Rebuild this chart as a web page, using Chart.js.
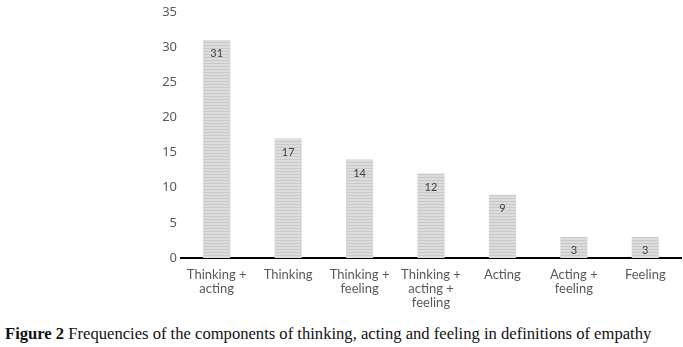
<!DOCTYPE html>
<html>
<head>
<meta charset="utf-8">
<script src="https://cdn.jsdelivr.net/npm/chart.js@4/dist/chart.umd.min.js"></script>
<style>
    body { margin: 0; background: #fff; }
    #wrap { width: 683px; height: 310px; }
    #caption {
        font-family: "Liberation Serif", "DejaVu Serif", serif;
        font-size: 16.6px;
        color: #111;
        margin: 14px 0 0 5px;
        white-space: nowrap;
    }
</style>
</head>
<body>
<div id="wrap"><canvas id="barGraph" width="683" height="310"></canvas></div>
<div id="caption"><b>Figure 2</b> Frequencies of the components of thinking, acting and feeling in definitions of empathy</div>
<script>

var categories = [
    ['Thinking +', 'acting'],
    'Thinking',
    ['Thinking +', 'feeling'],
    ['Thinking +', 'acting +', 'feeling'],
    'Acting',
    ['Acting +', 'feeling'],
    'Feeling'
];
var frequencies = [31, 17, 14, 12, 9, 3, 3];
var yTicks = [0, 5, 10, 15, 20, 25, 30, 35];

// horizontal stripes for the bar fill
function stripes() {
    var c = document.createElement('canvas');
    c.width = 4;
    c.height = 3;
    var g = c.getContext('2d');
    g.fillStyle = '#dcdcdc';
    g.fillRect(0, 0, 4, 3);
    g.fillStyle = '#c9c9c9';
    g.fillRect(0, 0, 4, 1);
    return g.createPattern(c, 'repeat');
}

// value written just inside the top of each bar
var valueLabels = {
    id: 'valueLabels',
    afterDatasetsDraw: function(chart) {
        var ctx = chart.ctx;
        var meta = chart.getDatasetMeta(0);
        ctx.save();
        ctx.font = '11px Lato, sans-serif';
        ctx.fillStyle = '#404040';
        ctx.textAlign = 'center';
        ctx.textBaseline = 'middle';
        meta.data.forEach(function(bar, i) {
            ctx.fillText(frequencies[i], bar.x, bar.y + 14);
        });
        ctx.restore();
    }
};

function barChart() {
    var ctx = document.getElementById('barGraph').getContext('2d');
    var chart = new Chart(ctx, {
        type: 'bar',
        data: {
            labels: categories,
            datasets: [{
                data: frequencies,
                backgroundColor: stripes(),
                borderWidth: 0,
                barPercentage: 0.38,
                categoryPercentage: 1
            }]
        },
        options: {
            responsive: false,
            animation: false,
            layout: { padding: { top: 11, right: 2, left: 0, bottom: 0 } },
            plugins: {
                legend: { display: false },
                tooltip: { enabled: false }
            },
            scales: {
                x: {
                    grid: { display: false },
                    border: { display: true, color: '#000', width: 2 },
                    ticks: {
                        color: '#595959',
                        font: { family: 'Lato, sans-serif', size: 13, lineHeight: 1.08 },
                        padding: 2,
                        maxRotation: 0,
                        autoSkip: false
                    },
                    afterFit: function(s) { s.height = 52; }
                },
                y: {
                    min: 0,
                    max: 35,
                    grid: { display: false, drawTicks: false },
                    border: { display: false },
                    afterBuildTicks: function(s) {
                        s.ticks = yTicks.map(function(v) { return { value: v }; });
                    },
                    ticks: {
                        color: '#595959',
                        font: { family: '"Noto Sans", sans-serif', size: 13 },
                        padding: 4
                    },
                    afterFit: function(s) { s.width = 181; }
                }
            }
        },
        plugins: [valueLabels]
    });
}

barChart();
</script>
</body>
</html>
